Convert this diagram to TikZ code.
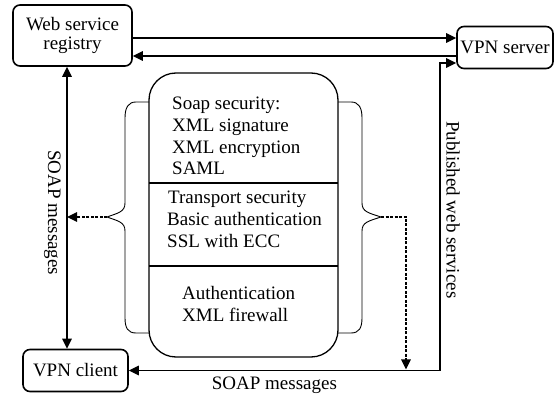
\documentclass[tikz,border=0pt]{standalone}
\usepackage{fontspec}
\setmainfont{Liberation Serif}
\usetikzlibrary{arrows.meta}
\tikzset{
  boxnode/.style={draw, line width=1.6pt, rounded corners=7pt, align=center, inner sep=0pt, font=\fontsize{19}{18.5}\selectfont},
  txt/.style={font=\fontsize{19}{21.7}\selectfont, inner sep=0pt, anchor=base west},
  arr/.style={line width=1.3pt, -{Triangle[length=10pt,width=9.5pt]}},
  darr/.style={line width=1.3pt, {Triangle[length=10pt,width=9.5pt]}-{Triangle[length=10pt,width=9.5pt]}},
  dasharr/.style={line width=1.5pt, dash pattern=on 3pt off 1.5pt, -{Triangle[length=10pt,width=9.5pt]}},
  bracepath/.style={line width=0.9pt},
  stack/.style={line width=1.3pt}
}
\begin{document}
\begin{tikzpicture}[x=1pt,y=-1pt]
\useasboundingbox (0,0) rectangle (555,395);
% boxes
\node[boxnode, minimum width=119pt, minimum height=61pt] (reg) at (72.5,35.5) {Web service\\registry};
\node[boxnode, minimum width=96pt, minimum height=42pt] (vpn) at (505,47.5) {VPN server};
\node[boxnode, minimum width=105pt, minimum height=42pt] (cli) at (75.5,370.5) {VPN client};
% central stack
\draw[stack, rounded corners=27pt] (149,73) rectangle (338,357);
\coordinate (d1l) at (149,183); \coordinate (d1r) at (338,183);
\coordinate (d2l) at (149,266); \coordinate (d2r) at (338,266);
\draw[stack] (d1l) -- (d1r);
\draw[stack] (d2l) -- (d2r);
\node[txt] (a1) at (172,109.7) {Soap security:};
\node[txt] (a2) at (172,131.4) {XML signature};
\node[txt] (a3) at (172,153.1) {XML encryption};
\node[txt] (a4) at (172,174.8) {SAML};
\node[txt] (b1) at (168,203.7) {Transport security};
\node[txt] (b2) at (167,225.4) {Basic authentication};
\node[txt] (b3) at (167,247.1) {SSL with ECC};
\node[txt] (c1) at (182,300) {Authentication};
\node[txt] (c2) at (182,321.7) {XML firewall};
% braces
\coordinate (lt) at (107,217);
\coordinate (rt) at (381,217);
\draw[bracepath] (149,102) -- (136,102) .. controls (128,102) and (125,108) .. (125,118) -- (125,203) .. controls (125,212) and (118,213) .. (lt) .. controls (118,221) and (125,222) .. (125,231) -- (125,318) .. controls (125,328) and (128,333) .. (136,333) -- (149,333);
\draw[bracepath] (338,102) -- (351,102) .. controls (359,102) and (362,108) .. (362,118) -- (362,203) .. controls (362,212) and (369,213) .. (rt) .. controls (369,221) and (362,222) .. (362,231) -- (362,318) .. controls (362,328) and (359,333) .. (351,333) -- (338,333);
% connectors
\coordinate (ya) at (0,38);
\coordinate (yb) at (0,56);
\coordinate (xv) at (67,0);
\draw[arr] (reg.east |- ya) -- (vpn.west |- ya);
\draw[arr] (vpn.west |- yb) -- (reg.east |- yb);
\draw[darr] (reg.south -| xv) -- (cli.north -| xv);
\node[txt, rotate=-90] (soapv) at (48,150) {SOAP messages};
\coordinate (pc1) at (440,370.5);
\coordinate (pc2) at (440,63);
\draw[darr] (cli.east |- pc1) -- (pc1) -- (pc2) -- (vpn.west |- pc2);
\node[txt, rotate=-90] (pub) at (446.7,121) {Published web services};
\node[txt] (soaph) at (211.7,390) {SOAP messages};
\coordinate (le) at (67,217);
\draw[dasharr] (lt) -- (le);
\coordinate (rc) at (406,217);
\coordinate (rb) at (406,369.5);
\draw[dasharr] (rt) -- (rc) -- (rb);
\end{tikzpicture}
\end{document}
